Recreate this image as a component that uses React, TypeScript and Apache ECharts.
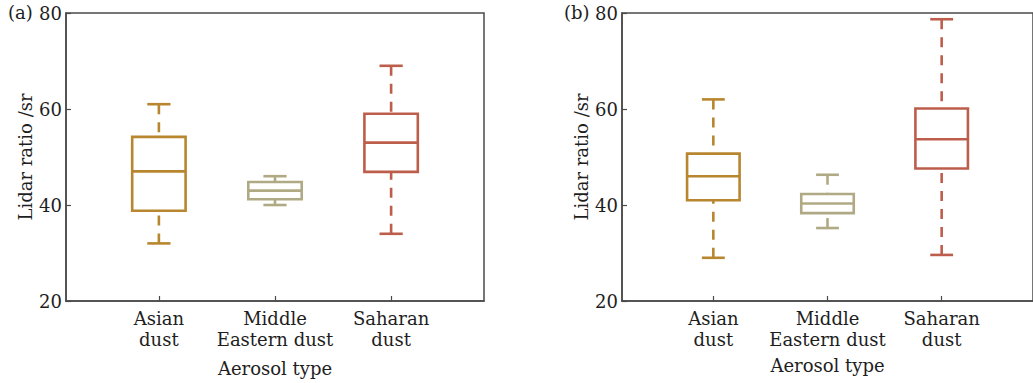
import React, { useEffect, useRef } from "react";
import * as echarts from "echarts";

// ---- Data ----
const categories = ["Asian\ndust", "Middle\nEastern dust", "Saharan\ndust"];
const positions = [1, 2, 3];
const boxColors = ["#b8862f", "#b0aa84", "#bd5e4c"];
const yTicks = [20, 40, 60, 80];

// [min, Q1, median, Q3, max]
const asianA = [32, 38.8, 47, 54.2, 61];
const middleEastA = [40, 41.2, 43, 44.8, 46];
const saharanA = [34, 46.9, 53, 59, 69];

const asianB = [29, 41, 46, 50.7, 62];
const middleEastB = [35.2, 38.3, 40.3, 42.3, 46.3];
const saharanB = [29.6, 47.6, 53.7, 60.1, 78.7];

const panelLabels = ["(a)", "(b)"];
const yName = "Lidar ratio /sr";
const xName = "Aerosol type";

const FONT = "DejaVu Serif";
const AXIS_COLOR = "#4a4a4a";
const TEXT_COLOR = "#1e1e1e";

function buildData(sets: number[][]) {
  return sets.map((s, i) => [positions[i], ...s]);
}

function renderBox(params: any, api: any) {
  const x = api.value(0);
  const lo = api.value(1);
  const q1 = api.value(2);
  const med = api.value(3);
  const q3 = api.value(4);
  const hi = api.value(5);
  const pLo = api.coord([x, lo]);
  const pQ1 = api.coord([x, q1]);
  const pMed = api.coord([x, med]);
  const pQ3 = api.coord([x, q3]);
  const pHi = api.coord([x, hi]);
  const unit = api.size([1, 0])[0];
  const bw = (unit * 0.46) / 2;
  const cw = (unit * 0.2) / 2;
  const cx = pMed[0];
  const color = boxColors[params.dataIndex];
  const lw = 2.6;
  const solid = { stroke: color, lineWidth: lw, fill: "none" };
  const dashed = { stroke: color, lineWidth: lw, lineDash: [10, 8] };
  return {
    type: "group",
    children: [
      {
        type: "line",
        shape: { x1: cx, y1: pHi[1], x2: cx, y2: pQ3[1] },
        style: dashed,
      },
      {
        type: "line",
        shape: { x1: cx, y1: pLo[1], x2: cx, y2: pQ1[1] },
        style: dashed,
      },
      {
        type: "line",
        shape: { x1: cx - cw, y1: pHi[1], x2: cx + cw, y2: pHi[1] },
        style: solid,
      },
      {
        type: "line",
        shape: { x1: cx - cw, y1: pLo[1], x2: cx + cw, y2: pLo[1] },
        style: solid,
      },
      {
        type: "rect",
        shape: { x: cx - bw, y: pQ3[1], width: bw * 2, height: pQ1[1] - pQ3[1] },
        style: { stroke: color, lineWidth: lw, fill: "#ffffff" },
      },
      {
        type: "line",
        shape: { x1: cx - bw, y1: pMed[1], x2: cx + bw, y2: pMed[1] },
        style: solid,
      },
    ],
  };
}

export default function App() {
  const ref = useRef<HTMLDivElement>(null);

  useEffect(() => {
    if (!ref.current) return;
    const chart = echarts.init(ref.current, null, { renderer: "svg" });
    const grids = [
      { left: 66, top: 13, width: 418, height: 288 },
      { left: 622, top: 13, width: 418, height: 288 },
    ];
    const xNameGaps = [58, 55];

    const xAxes = grids.map((_, gi) => ({
      type: "value",
      gridIndex: gi,
      min: 0.2,
      max: 3.8,
      name: xName,
      nameLocation: "middle",
      nameGap: xNameGaps[gi],
      nameTextStyle: { fontFamily: FONT, fontSize: 18, color: TEXT_COLOR },
      splitLine: { show: false },
      axisLine: { show: true, lineStyle: { color: AXIS_COLOR, width: 1.5 } },
      axisTick: {
        show: true,
        inside: true,
        length: 5,
        customValues: positions,
        lineStyle: { color: AXIS_COLOR, width: 1.2 },
      },
      axisLabel: {
        show: true,
        customValues: positions,
        formatter: (v: number) => categories[Math.round(v) - 1] ?? "",
        fontFamily: FONT,
        fontSize: 18,
        lineHeight: 21,
        color: TEXT_COLOR,
        margin: 7,
        align: "center",
      },
    }));

    const yAxes = grids.map((_, gi) => ({
      type: "value",
      gridIndex: gi,
      min: 20,
      max: 80,
      interval: 20,
      name: yName,
      nameLocation: "middle",
      nameRotate: 90,
      nameGap: 32,
      nameTextStyle: { fontFamily: FONT, fontSize: 18, color: TEXT_COLOR },
      splitLine: { show: false },
      axisLine: { show: true, lineStyle: { color: AXIS_COLOR, width: 1.5 } },
      axisTick: {
        show: true,
        inside: true,
        length: 5,
        lineStyle: { color: AXIS_COLOR, width: 1.2 },
      },
      axisLabel: {
        fontFamily: FONT,
        fontSize: 18,
        color: TEXT_COLOR,
        margin: 4,
        formatter: (v: number) => (yTicks.includes(v) ? String(v) : ""),
      },
    }));

    const panels = [
      buildData([asianA, middleEastA, saharanA]),
      buildData([asianB, middleEastB, saharanB]),
    ];

    chart.setOption({
      animation: false,
      backgroundColor: "#ffffff",
      grid: grids.map((g) => ({
        ...g,
        show: true,
        borderColor: AXIS_COLOR,
        borderWidth: 1.5,
        backgroundColor: "transparent",
        containLabel: false,
      })),
      xAxis: xAxes,
      yAxis: yAxes,
      series: panels.map((data, gi) => ({
        type: "custom",
        xAxisIndex: gi,
        yAxisIndex: gi,
        data,
        encode: { x: 0, y: [1, 2, 3, 4, 5] },
        renderItem: renderBox,
        clip: false,
      })),
      graphic: [
        {
          type: "text",
          left: 8,
          top: 3,
          style: { text: panelLabels[0], font: `18px "${FONT}"`, fill: TEXT_COLOR },
        },
        {
          type: "text",
          left: 564,
          top: 3,
          style: { text: panelLabels[1], font: `18px "${FONT}"`, fill: TEXT_COLOR },
        },
      ],
    });
    return () => chart.dispose();
  }, []);

  return (
    <div
      ref={ref}
      style={{ position: "fixed", left: 0, top: 0, width: 1033, height: 383, background: "#fff" }}
    />
  );
}
